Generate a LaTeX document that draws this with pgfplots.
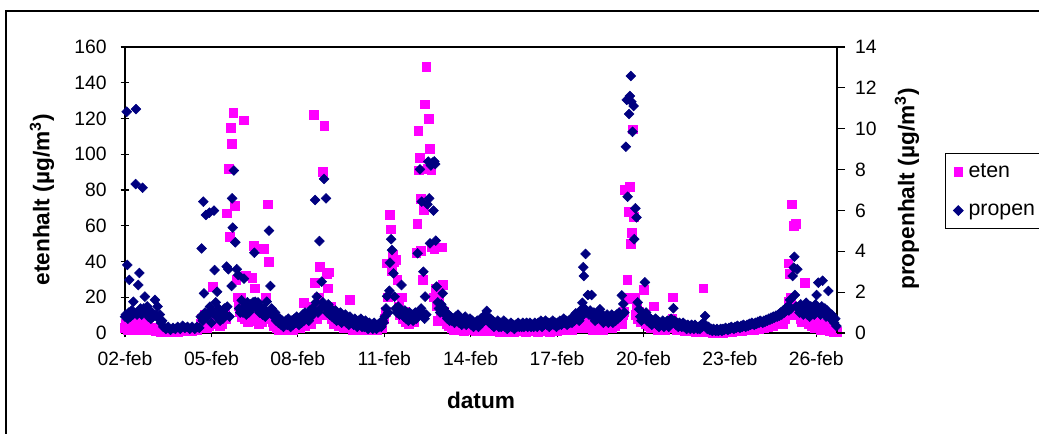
\documentclass[border=0pt]{standalone}
\usepackage{pgfplots}
\pgfplotsset{compat=1.18}
\usepackage{fontspec}
\setmainfont{Liberation Sans}
\definecolor{navyx}{RGB}{0,0,128}
\definecolor{magx}{RGB}{255,0,255}
\begin{document}
\begin{tikzpicture}
\clip (0,0) rectangle (779.25pt,325.5pt);
\draw[line width=1.5pt] (4.5pt,-10pt) -- (4.5pt,317.25pt) -- (800pt,317.25pt);
\pgfplotsset{
  common/.style={
    at={(93.75pt,75.75pt)}, anchor=south west,
    scale only axis, width=534pt, height=214.5pt,
    xmin=2, xmax=26.72, ymin=0,
    clip=false,
    /pgf/number format/assume math mode=true,
    tick label style={font=\fontsize{14.5}{17}\selectfont},
    tick style={black, line width=0.8pt},
  }
}
\begin{axis}[common, ymax=160,
  xtick={2,5,...,26},
  xticklabels={02-feb,05-feb,08-feb,11-feb,14-feb,17-feb,20-feb,23-feb,26-feb},
  ytick={0,20,...,160},
  xtick pos=bottom, ytick pos=left,
  tick align=center, major tick length=6.5pt,
  xticklabel style={yshift=-7pt},
  yticklabel style={xshift=-7pt},
  x axis line style={gray!70!black, line width=0.8pt},
  y axis line style={black, line width=0.8pt},
]
\addplot[only marks, mark=square*, mark size=3.3pt, color=magx] coordinates {
(2.00,3)(2.04,5)(2.08,2)(2.12,6)(2.17,3)(2.21,4)(2.25,2)(2.29,5)(2.33,3)(2.38,7)(2.42,4)(2.46,2)(2.50,5)(2.54,3)(2.58,2)(2.63,4)(2.67,3)(2.71,6)(2.75,2)(2.79,4)(2.83,3)(2.88,2)(2.92,3)(2.96,1.5)(3.00,2)(3.08,1)(3.17,1.5)(3.25,0.5)(3.33,1)(3.42,0.5)(3.50,1)(3.58,0.5)(3.67,1)(3.75,1.5)(3.83,0.5)(3.92,1)(4.00,1.5)(4.08,1)(4.17,2)(4.25,1.5)(4.33,1)(4.42,2)(4.50,1.5)(4.58,3)
(4.63,5)(4.67,8)(4.71,4)(4.75,10)(4.79,6)(4.83,3)(4.88,7)(4.92,4)(4.96,6)(5.00,9)(5.04,26)(5.08,12)(5.13,8)(5.17,5)(5.21,10)(5.25,6)(5.29,4)(5.33,7)(5.38,5)(5.42,9)(5.46,12)(5.50,8)(5.53,67)(5.59,92)(5.64,54)(5.68,115)(5.72,106)(5.76,123)(5.82,71)(5.86,30)(5.90,20)(5.94,15)(5.98,12)(6.02,20)(6.06,9)(6.11,119)(6.15,8)(6.19,32)(6.23,10)(6.27,6)(6.31,12)(6.35,8)(6.42,31)(6.46,49)(6.51,25)(6.55,10)(6.60,7)(6.65,5)(6.70,9)(6.75,6)(6.80,12)(6.83,47)(6.88,20)(6.92,10)(6.95,72)(7.00,40)(7.04,8)(7.08,12)(7.13,6)(7.17,4)
(7.25,3)(7.33,2)(7.42,4)(7.50,2)(7.58,3)(7.67,2)(7.75,4)(7.83,2)(7.92,3)(8.00,5)(8.08,3)(8.17,8)(8.21,17)(8.25,4)(8.33,6)(8.42,10)(8.46,5)
(8.50,15)(8.54,122)(8.58,28)(8.63,12)(8.67,8)(8.72,20)(8.77,37)(8.81,14)(8.86,90)(8.92,116)(8.96,10)(9.00,33)(9.04,25)(9.09,34)(9.13,15)(9.17,8)(9.21,12)(9.25,5)(9.33,7)(9.42,4)(9.50,6)(9.58,3)(9.67,5)(9.75,3)(9.79,18.5)(9.83,4)(9.92,2)(10.00,4)(10.08,2)(10.17,3)(10.25,1.5)(10.33,3)(10.42,2)(10.50,3)(10.58,1.5)(10.67,3)(10.75,2)(10.83,4)(10.92,3)(11.00,8)
(11.04,12)(11.09,39)(11.13,20)(11.18,66)(11.22,58)(11.26,35)(11.30,44)(11.35,40)(11.41,41)(11.45,30)(11.50,15)(11.55,10)(11.60,20)(11.65,8)(11.70,12)(11.75,6)(11.80,8)(11.85,5)(11.90,9)(11.95,7)(12.00,10)(12.04,6)(12.07,10)(12.11,45)(12.15,61)(12.18,113)(12.20,91)(12.22,98)(12.26,75)(12.28,46)(12.33,30)(12.38,69)(12.42,128)(12.46,149)(12.50,92)(12.55,120)(12.59,103)(12.63,91)(12.66,48)(12.70,20)(12.74,47)(12.78,25)(12.82,15)(12.86,7)(12.90,20)(12.95,12)(13.00,48)(13.03,27)(13.07,12)(13.12,8)(13.17,5)(13.21,7)(13.25,4)
(13.33,3)(13.42,2)(13.50,4)(13.58,2)(13.67,3)(13.75,1)(13.83,3)(13.92,2)(14.00,4)(14.08,2)(14.17,1)(14.25,3)(14.33,2)(14.42,1)(14.50,3)(14.58,2)(14.67,1)(14.75,2)(14.83,1)(14.92,2)(15.00,0.5)(15.08,1.5)(15.17,1)(15.25,0.5)(15.33,2)(15.42,1)(15.50,0.5)(15.58,1.5)(15.67,1)(15.75,2)(15.83,1)(15.92,0.5)(16.00,1.5)(16.08,1)(16.17,2)(16.25,1)(16.33,0.5)(16.42,1.5)(16.50,1)(16.58,2)(16.67,1)(16.75,0.5)(16.83,1.5)(16.92,2)(17.00,1)(17.08,2)(17.17,1.5)(17.25,2.5)(17.33,2)(17.42,3)(17.50,2)(17.58,3)(17.67,4)(17.75,3)(17.83,5)(17.92,4)(18.00,6)(18.08,3)(18.17,5)(18.25,2)(18.33,4)(18.42,3)(18.50,5)(18.58,2)(18.67,4)(18.75,3)(18.83,5)(18.92,3)(19.00,4)(19.08,6)(19.17,8)(19.25,5)(19.29,10)
(19.33,12)(19.36,80)(19.40,20)(19.44,30)(19.48,68)(19.50,19)(19.53,82)(19.57,50)(19.59,56)(19.63,114)(19.66,65)(19.70,20)(19.74,10)(19.77,15)(19.81,8)(19.85,12)(19.90,6)(19.94,9)(20.00,24)(20.04,10)(20.08,5)(20.13,8)(20.17,4)(20.21,6)(20.25,3)(20.30,5)(20.35,15)(20.42,4)(20.50,2)(20.58,5)(20.67,3)(20.75,2)(20.83,4)(20.92,3)(21.00,8)(21.02,20)(21.08,3)(21.17,2)(21.25,4)(21.33,2)(21.42,1)(21.50,3)(21.58,1)(21.67,2)(21.75,1)(21.83,0.5)(21.92,1.5)(22.00,0.5)(22.08,25)(22.17,1)(22.25,0.5)(22.33,1)(22.42,0.3)(22.50,0.5)(22.58,0.2)(22.67,0.5)(22.75,0.3)(22.83,1)(22.92,0.5)(23.00,1)(23.08,0.5)(23.17,1.5)(23.25,1)(23.33,1.5)(23.42,1)(23.50,2)(23.58,1.5)(23.67,2)(23.75,2.5)(23.83,2)(23.92,3)(24.00,2.5)(24.08,3.5)(24.17,3)(24.25,4)(24.33,3.5)(24.42,5)(24.50,4)(24.58,6)(24.67,5)(24.75,7)(24.83,5)(24.92,8)
(25.00,10)(25.03,39)(25.05,17.5)(25.08,33)(25.12,20)(25.15,72)(25.19,12)(25.23,60)(25.28,61)(25.32,15)(25.36,10)(25.40,12)(25.45,8)(25.50,6)(25.55,9)(25.61,28)(25.65,7)(25.70,10)(25.75,5)(25.80,8)(25.85,4)(25.90,7)(25.95,3)(26.00,6)(26.05,3)(26.10,5)(26.15,2)(26.20,4)(26.25,2)(26.30,5)(26.35,1.5)(26.40,3)(26.45,1)(26.50,2)(26.55,1)(26.60,0.5)(26.65,1)(26.70,0.5)
};
\end{axis}
\begin{axis}[common, ymax=14,
  axis x line=none, axis y line*=right,
  ytick={0,2,...,14},
  tick align=outside, major tick length=6pt,
  yticklabel style={xshift=4pt},
  y axis line style={black, line width=0.8pt},
  legend image code/.code={\draw[#1] plot coordinates {(0pt,0pt)};},
  legend cell align=left,
  legend style={at={(1.1517,0.6294)}, anchor=north west, draw=black, line width=0.6pt,
    font=\fontsize{16}{19}\selectfont, inner xsep=6pt, inner ysep=6pt, row sep=14pt, column sep=2pt},
]
\addlegendimage{only marks, mark=square*, mark size=3.3pt, color=magx}
\addlegendentry{eten}
\addplot[only marks, mark=square*, mark size=2.6pt, color=navyx, mark options={rotate=45}] coordinates {
(2.00,0.8)(2.03,0.9)(2.06,10.83)(2.08,3.33)(2.10,0.7)(2.13,1.0)(2.15,2.6)(2.19,0.8)(2.23,1.1)(2.27,0.9)(2.29,1.53)(2.33,1.0)(2.37,7.29)(2.38,10.96)(2.42,0.9)(2.46,2.35)(2.50,2.94)(2.54,1.2)(2.58,0.9)(2.61,7.11)(2.65,1.2)(2.69,1.78)(2.73,1.0)(2.77,1.3)(2.81,0.8)(2.85,1.1)(2.90,0.7)(2.94,1.0)(2.98,0.8)(3.04,1.62)(3.08,0.9)(3.13,1.3)(3.17,0.7)(3.21,0.9)(3.25,0.5)(3.29,0.6)(3.33,0.3)(3.42,0.2)(3.50,0.3)(3.58,0.15)(3.67,0.25)(3.75,0.2)(3.83,0.3)(3.92,0.2)(4.00,0.35)(4.08,0.25)(4.17,0.3)(4.25,0.2)(4.33,0.3)(4.42,0.2)(4.50,0.3)(4.58,0.25)
(4.63,0.8)(4.66,4.14)(4.70,0.6)(4.72,6.43)(4.74,1.94)(4.78,1.0)(4.81,5.78)(4.85,0.8)(4.90,1.0)(4.93,5.89)(4.95,1.29)(5.00,0.5)(5.04,1.0)(5.09,5.99)(5.11,3.08)(5.15,1.5)(5.18,0.8)(5.20,2.02)(5.25,1.2)(5.30,0.6)(5.35,1.0)(5.40,0.7)(5.45,1.2)(5.50,0.9)(5.53,3.25)(5.55,1.29)(5.59,3.12)(5.63,0.8)(5.70,2.3)(5.72,6.59)(5.74,5.16)(5.78,7.95)(5.83,4.44)(5.88,3.12)(5.93,2.84)(5.96,1.2)(6.00,1.0)(6.05,1.6)(6.10,1.0)(6.13,2.66)(6.17,1.3)(6.21,0.9)(6.25,1.5)(6.30,1.0)(6.35,1.4)(6.40,1.2)(6.45,1.5)(6.49,3.93)(6.52,1.53)(6.57,1.2)(6.62,1.5)(6.67,1.0)(6.72,1.3)(6.77,0.9)(6.82,1.2)(6.87,0.8)(6.92,1.53)(6.96,1.0)(7.00,5.01)(7.05,2.3)(7.09,1.2)(7.13,1.0)(7.17,0.8)(7.21,1.0)(7.25,0.6)
(7.29,0.8)(7.33,0.5)(7.38,0.7)(7.42,0.4)(7.46,0.6)(7.50,0.3)(7.54,0.5)(7.58,0.6)(7.63,0.4)(7.67,0.7)(7.71,0.5)(7.75,0.3)(7.79,0.6)(7.83,0.4)(7.88,0.7)(7.92,0.5)(7.96,0.8)(8.00,0.6)(8.04,0.4)(8.08,0.7)(8.13,0.5)(8.17,0.9)(8.21,0.6)(8.25,1.0)(8.29,0.7)(8.33,0.9)(8.38,0.6)(8.42,1.1)(8.46,0.8)(8.50,1.2)
(8.56,1.0)(8.60,6.51)(8.63,1.5)(8.66,1.78)(8.70,1.0)(8.75,4.5)(8.79,1.2)(8.83,2.51)(8.87,1.5)(8.91,7.54)(8.95,1.3)(8.98,6.59)(9.02,1.0)(9.06,1.4)(9.10,0.9)(9.15,1.2)(9.19,0.8)(9.23,1.0)(9.27,0.7)(9.31,1.1)(9.35,0.6)(9.40,0.9)(9.44,0.7)(9.48,1.0)(9.52,0.5)(9.56,0.8)(9.60,0.6)(9.65,0.9)(9.69,0.5)(9.73,0.7)(9.77,0.4)(9.81,0.8)(9.85,0.5)(9.90,0.6)(9.94,0.4)(9.98,0.7)(10.02,0.5)(10.06,0.3)(10.10,0.6)(10.15,0.4)(10.19,0.7)(10.23,0.3)(10.27,0.5)(10.31,0.3)(10.35,0.6)(10.40,0.4)(10.44,0.2)(10.48,0.5)(10.52,0.3)(10.56,0.4)(10.60,0.2)(10.65,0.5)(10.69,0.3)(10.73,0.2)(10.77,0.4)(10.81,0.3)(10.85,0.5)(10.90,0.3)(10.94,0.6)(10.98,0.5)
(11.02,0.8)(11.06,1.2)(11.10,1.8)(11.14,1.0)(11.18,2.07)(11.20,3.44)(11.24,4.59)(11.27,4.06)(11.32,2.92)(11.36,1.78)(11.40,1.2)(11.44,1.0)(11.49,1.29)(11.53,0.9)(11.57,1.1)(11.60,2.35)(11.64,1.0)(11.68,0.8)(11.72,1.1)(11.76,0.7)(11.80,0.9)(11.84,0.6)(11.88,1.0)(11.92,0.7)(11.96,0.9)(12.00,0.6)(12.04,0.8)(12.08,1.0)(12.12,0.7)(12.16,3.9)(12.20,0.9)(12.24,8.01)(12.28,1.2)(12.30,6.43)(12.34,1.0)(12.36,3.0)(12.40,0.7)(12.42,1.78)(12.46,0.9)(12.50,6.3)(12.53,8.39)(12.56,6.59)(12.59,4.39)(12.62,8.2)(12.68,8.34)(12.71,5.99)(12.74,8.4)(12.77,8.27)(12.79,4.52)(12.82,2.27)(12.86,1.5)(12.90,1.2)(12.94,1.0)(12.98,1.4)(13.03,1.94)(13.07,1.2)(13.11,0.9)(13.15,1.0)(13.19,0.7)(13.23,0.9)(13.27,0.6)
(13.31,0.8)(13.35,0.6)(13.40,0.7)(13.44,0.5)(13.48,0.8)(13.52,0.6)(13.56,0.9)(13.60,0.5)(13.65,0.7)(13.69,0.4)(13.73,0.6)(13.77,0.5)(13.81,0.8)(13.85,0.4)(13.90,0.6)(13.94,0.5)(13.98,0.7)(14.02,0.4)(14.06,0.6)(14.10,0.3)(14.15,0.5)(14.19,0.4)(14.23,0.6)(14.27,0.3)(14.31,0.5)(14.35,0.7)(14.40,0.5)(14.44,0.8)(14.48,0.6)(14.52,0.9)(14.56,1.08)(14.60,0.7)(14.65,0.5)(14.69,0.7)(14.73,0.4)(14.77,0.6)(14.81,0.3)(14.85,0.5)(14.90,0.4)(14.94,0.6)(14.98,0.3)(15.02,0.5)(15.06,0.3)(15.10,0.4)(15.15,0.6)(15.19,0.3)(15.23,0.5)(15.27,0.2)(15.31,0.4)(15.35,0.3)(15.40,0.5)(15.44,0.3)(15.48,0.4)(15.52,0.2)(15.56,0.4)(15.60,0.3)(15.65,0.5)(15.69,0.3)(15.73,0.4)(15.77,0.3)(15.81,0.5)(15.85,0.3)(15.90,0.4)(15.94,0.5)(15.98,0.3)(16.02,0.4)(16.06,0.5)(16.10,0.3)(16.15,0.4)(16.19,0.3)(16.23,0.5)(16.27,0.4)(16.31,0.3)(16.35,0.5)(16.40,0.4)(16.44,0.6)(16.48,0.3)(16.52,0.5)(16.56,0.4)(16.60,0.6)(16.65,0.4)(16.69,0.5)(16.73,0.3)(16.77,0.5)(16.81,0.4)(16.85,0.6)(16.90,0.4)(16.94,0.5)(16.98,0.3)(17.02,0.5)(17.06,0.4)(17.10,0.6)(17.15,0.4)(17.19,0.5)(17.23,0.7)(17.27,0.5)(17.31,0.6)(17.35,0.4)(17.40,0.6)(17.44,0.5)(17.48,0.7)(17.52,0.5)(17.56,0.8)(17.60,0.6)(17.65,0.96)(17.69,0.7)
(17.73,0.9)(17.77,0.6)(17.81,1.1)(17.85,0.8)(17.88,1.48)(17.91,3.22)(17.93,2.79)(17.96,1.2)(17.99,3.87)(18.03,1.0)(18.07,1.86)(18.11,0.9)(18.15,1.1)(18.20,1.86)(18.24,0.8)(18.28,1.0)(18.32,0.6)(18.36,0.9)(18.40,0.7)(18.44,1.0)(18.49,1.16)(18.53,0.7)(18.57,0.9)(18.61,0.5)(18.65,0.8)(18.69,0.6)(18.74,0.9)(18.78,0.5)(18.82,0.7)(18.86,0.6)(18.90,0.9)(18.94,0.5)(18.99,0.8)(19.03,0.6)(19.07,0.9)(19.11,0.7)(19.15,1.0)(19.19,0.8)(19.25,1.84)(19.30,1.42)(19.34,1.0)(19.39,9.12)(19.42,11.41)(19.45,6.67)(19.50,10.72)(19.53,11.6)(19.56,12.58)(19.58,11.32)(19.62,9.85)(19.66,11.11)(19.68,4.59)(19.72,6.1)(19.76,5.66)(19.80,1.5)(19.85,1.16)(19.89,0.8)(19.93,0.6)(19.97,0.9)(20.01,0.7)(20.05,2.48)(20.09,1.0)(20.13,0.6)(20.17,0.8)(20.21,0.5)(20.25,0.7)(20.29,0.4)(20.33,0.6)(20.38,0.5)(20.42,0.7)(20.46,0.4)(20.50,0.6)(20.54,0.3)(20.58,0.5)(20.63,0.4)(20.67,0.6)(20.71,0.3)(20.75,0.5)(20.79,0.4)(20.83,0.6)(20.88,0.3)(20.92,0.5)(20.96,0.7)(21.00,0.5)(21.04,1.21)(21.08,0.6)(21.13,0.4)(21.17,0.5)(21.21,0.3)(21.25,0.5)(21.29,0.4)(21.33,0.3)(21.38,0.5)(21.42,0.3)(21.46,0.4)(21.50,0.2)(21.54,0.4)(21.58,0.3)(21.63,0.2)(21.67,0.4)(21.71,0.3)(21.75,0.2)(21.79,0.4)(21.83,0.3)(21.88,0.2)(21.92,0.3)(21.96,0.2)(22.00,0.4)(22.04,0.3)(22.08,0.5)(22.14,0.83)(22.18,0.3)(22.22,0.2)(22.26,0.3)(22.30,0.15)(22.35,0.2)(22.39,0.1)(22.43,0.2)(22.47,0.15)(22.51,0.1)(22.55,0.2)(22.60,0.1)(22.64,0.15)(22.68,0.2)(22.72,0.1)(22.76,0.2)(22.80,0.15)(22.85,0.25)(22.89,0.2)(22.93,0.15)(22.97,0.25)(23.01,0.2)(23.05,0.3)(23.10,0.25)(23.14,0.2)(23.18,0.3)(23.22,0.25)(23.26,0.35)(23.30,0.3)(23.35,0.25)(23.39,0.35)(23.43,0.3)(23.47,0.4)(23.51,0.35)(23.55,0.3)(23.60,0.4)(23.64,0.35)(23.68,0.45)(23.72,0.4)(23.76,0.5)(23.80,0.45)(23.85,0.4)(23.89,0.5)(23.93,0.45)(23.97,0.55)(24.01,0.5)(24.05,0.6)(24.10,0.55)(24.14,0.5)(24.18,0.6)(24.22,0.55)(24.26,0.65)(24.30,0.6)(24.35,0.7)(24.39,0.65)(24.43,0.75)(24.47,0.7)(24.51,0.8)(24.55,0.75)(24.60,0.85)(24.64,0.8)(24.68,0.9)(24.72,0.85)(24.76,1.0)(24.80,0.9)(24.85,1.1)(24.89,1.0)(24.93,1.2)(24.97,1.1)
(25.01,1.3)(25.05,1.1)(25.09,1.62)(25.13,1.2)(25.18,2.79)(25.22,3.2)(25.24,3.73)(25.26,1.86)(25.30,1.3)(25.34,3.12)(25.38,1.2)(25.42,1.0)(25.46,1.4)(25.50,1.1)(25.55,0.9)(25.60,1.2)(25.65,1.48)(25.69,0.9)(25.73,1.2)(25.77,0.8)(25.81,1.3)(25.85,1.0)(25.89,1.2)(25.93,0.9)(25.97,1.4)(26.01,1.86)(26.05,1.1)(26.07,2.46)(26.11,1.2)(26.15,0.9)(26.19,1.3)(26.22,2.56)(26.26,1.0)(26.30,1.2)(26.34,0.8)(26.38,1.1)(26.42,2.06)(26.46,0.9)(26.50,0.7)(26.54,0.9)(26.58,0.6)(26.62,0.5)(26.66,0.7)(26.70,0.34)
};
\addlegendentry{propen}
\end{axis}
\node[font=\bfseries\fontsize{17}{20}\selectfont] at (360.75pt,25.5pt) {datum};
\node[rotate=90, font=\bfseries\fontsize{17}{20}\selectfont] at (31.5pt,175.5pt) {etenhalt (µg/m\textsuperscript{3})};
\node[rotate=90, font=\bfseries\fontsize{17}{20}\selectfont] at (680.25pt,183.75pt) {propenhalt (µg/m\textsuperscript{3})};
\end{tikzpicture}
\end{document}
